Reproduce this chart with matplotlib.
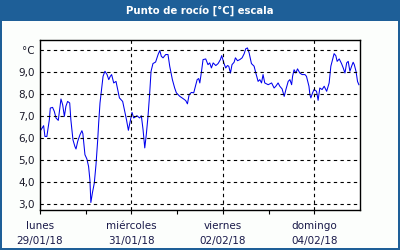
import matplotlib
matplotlib.use("Agg")
from matplotlib import pyplot as plt
from matplotlib.patches import Rectangle

# hours since 29/01/18 00:00 and dew point in °C
hours = [0, 1.9, 2.6, 3.6, 4.9, 5.4, 6.6, 7.5, 8.4, 9.6, 10.7, 11.0, 11.9, 12.8, 13.6, 14.5,
         15.6, 16.2, 17.3, 18.3, 18.9, 19.8, 21.0, 22.0, 22.5, 23.6, 24.6, 25.5, 26.2, 26.7,
         27.5, 28.5, 29.4, 30.3, 30.8, 31.5, 32.4, 33.1, 34.1, 35.2, 36.1, 36.9, 37.6, 38.7,
         39.9, 40.8, 41.7, 43.4, 44.3, 45.4, 46.4, 47.5, 48.3, 49.2, 50.9, 52.3, 53.2, 54.1,
         55.0, 55.8, 56.7, 57.6, 58.3, 59.3, 60.7, 62.0, 62.9, 63.7, 64.6, 66.0, 67.2, 68.1,
         69.5, 70.7, 71.6, 73.4, 75.1, 76.5, 77.4, 78.3, 79.5, 80.7, 81.6, 82.5, 83.3, 83.9,
         84.8, 85.6, 87.0, 88.2, 89.1, 90.0, 90.9, 92.3, 93.5, 94.7, 95.4, 96.5, 97.5, 98.4,
         99.1, 100.0, 100.8, 101.9, 102.6, 103.7, 104.9, 106.1, 107.2, 108.0, 108.9, 109.8,
         111.0, 112.4, 113.3, 114.5, 115.4, 116.3, 117.1, 118.0, 119.8, 121.6, 122.9, 123.8,
         125.0, 125.9, 127.1, 128.2, 129.1, 130.3, 131.2, 132.1, 132.6, 133.4, 134.3, 135.2,
         136.4, 137.6, 139.1, 139.9, 141.2, 141.7, 142.2, 143.1, 143.9, 145.2, 146.0, 146.9,
         148.1, 149.2, 150.5, 151.8, 152.7, 153.6, 154.4, 155.3, 156.0, 157.1, 158.3, 159.2,
         160.1, 161.0, 161.8, 162.7, 163.6, 164.4, 165.0, 165.9, 166.7, 167.4]
dew = [6.30, 6.56, 6.07, 6.07, 6.83, 7.36, 7.39, 7.21, 6.91, 6.80, 7.59, 7.77, 7.51, 6.98, 7.44, 7.66,
       7.59, 6.83, 5.92, 5.62, 5.50, 5.85, 6.15, 6.33, 6.20, 5.24, 5.05, 4.71, 4.10, 3.07,
       3.50, 3.95, 4.79, 5.92, 6.68, 7.59, 8.27, 8.80, 9.03, 8.88, 8.65, 8.80, 8.88, 8.50,
       8.57, 8.20, 7.82, 7.66, 7.29, 6.83, 6.35, 6.83, 7.16, 6.91, 7.01, 6.91, 7.01, 6.38,
       5.55, 6.15, 6.98, 8.05, 9.03, 9.38, 9.45, 9.79, 9.97, 9.71, 9.64, 9.79, 9.79, 9.26,
       8.65, 8.27, 8.05, 7.89, 7.79, 7.70, 7.55, 7.97, 8.07, 8.05, 8.35, 8.65, 8.70, 8.50,
       9.03, 9.56, 9.59, 9.33, 9.41, 9.18, 9.41, 9.29, 9.38, 9.56, 9.74, 9.41, 9.18, 9.29,
       9.26, 8.95, 9.33, 9.44, 9.64, 9.51, 9.56, 9.64, 9.83, 10.05, 10.09, 9.86,
       9.38, 9.26, 8.95, 8.57, 8.65, 8.50, 8.88, 8.50, 8.42, 8.50, 8.27, 8.35,
       8.50, 8.35, 8.23, 7.89, 8.20, 8.57, 8.65, 8.42, 8.80, 9.10, 8.95, 9.14,
       8.95, 8.88, 8.88, 8.80, 8.35, 7.97, 7.82, 8.05, 8.20, 8.12, 7.71, 8.27,
       8.20, 8.35, 8.12, 8.50, 9.26, 9.56, 9.83, 9.74, 9.48, 9.59, 9.38, 9.18,
       8.95, 9.41, 9.48, 9.03, 9.26, 9.44, 9.33, 9.03, 8.57, 8.42]

tick_days = [0, 2, 4, 6]
tick_labels = ["lunes\n29/01/18", "miércoles\n31/01/18", "viernes\n02/02/18", "domingo\n04/02/18"]
y_ticks = [3, 4, 5, 6, 7, 8, 9]
y_labels = ["3,0", "4,0", "5,0", "6,0", "7,0", "8,0", "9,0"]

blue = "#1e5f98"
days = [h / 24 for h in hours]

fig = plt.figure(figsize=(4, 2.5), dpi=100, facecolor=blue)
fig.patches.append(Rectangle((2 / 400, 2 / 250), 396 / 400, 227 / 250,
                             transform=fig.transFigure, facecolor="#fcfefc",
                             edgecolor="none", zorder=-10))
fig.text(0.5, 239.5 / 250, "Punto de rocío [°C] escala", color="white",
         fontsize=7.3, fontweight="bold", ha="center", va="center")

ax = fig.add_axes([40 / 400, 40 / 250, 320 / 400, 170 / 250])
ax.set_facecolor("white")
ax.plot(days, dew, color="#0000ee", lw=0.75)

ax.set_xlim(0, 7)
ax.set_ylim(2.73, 10.45)
ax.set_xticks(tick_days)
ax.set_xticklabels(tick_labels, fontsize=7.5, color="#1a1a4a", linespacing=1.65)
ax.set_xticks([1, 3, 5], minor=True)
ax.set_yticks(y_ticks + [10])
ax.set_yticklabels(y_labels + ["°C"], fontsize=7.5, color="#1a1a2a")
ax.tick_params(axis="both", which="both", length=3, width=0.8, direction="out", pad=5)
ax.tick_params(axis="y", length=0, pad=4)

for v in y_ticks + [10]:
    ax.axhline(v, color="black", lw=0.8, ls=(0, (3, 3)))
for d in tick_days[1:]:
    ax.axvline(d, color="black", lw=0.8, ls=(0, (3, 3)))

for s in ax.spines.values():
    s.set_linewidth(1.0)

fig.savefig("out.png", dpi=100, facecolor=blue)
